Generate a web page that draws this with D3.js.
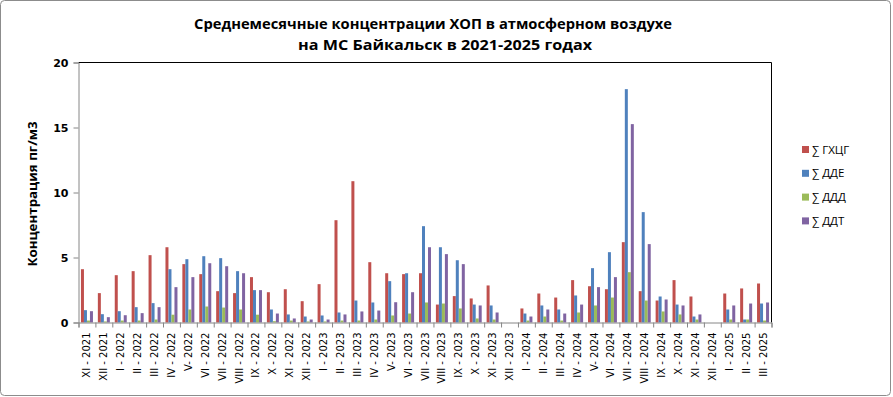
<!DOCTYPE html>
<html><head><meta charset="utf-8">
<script src="https://cdn.jsdelivr.net/npm/d3@7"></script>
<style>
html,body{margin:0;padding:0;background:#fff;}
svg{display:block;}
</style></head>
<body>
<svg id="c" width="893" height="397"></svg>
<script>
const categories = ["XI - 2021","XII - 2021","I - 2022","II - 2022","III - 2022","IV - 2022","V- 2022","VI - 2022","VII - 2022","VIII - 2022","IX - 2022","X - 2022","XI - 2022","XII - 2022","I - 2023","II - 2023","III - 2023","IV - 2023","V- 2023","VI - 2023","VII - 2023","VIII - 2023","IX - 2023","X - 2023","XI - 2023","XII - 2023","I - 2024","II - 2024","III - 2024","IV - 2024","V- 2024","VI - 2024","VII - 2024","VIII - 2024","IX - 2024","X - 2024","XI - 2024","XII - 2024","I - 2025","II - 2025","III - 2025"];
const seriesNames = ["∑ ГХЦГ","∑ ДДЕ","∑ ДДД","∑ ДДТ"];
const ghcg = [4.10,2.26,3.64,3.95,5.18,5.79,4.49,3.72,2.41,2.26,3.49,2.33,2.56,1.64,2.95,7.87,10.87,4.64,3.79,3.72,3.79,1.38,2.03,1.85,2.85,0,1.08,2.23,1.92,3.26,2.79,2.56,6.18,2.41,1.69,3.26,2.0,0,2.23,2.62,3.0];
const dde = [0.95,0.64,0.87,1.18,1.49,4.10,4.87,5.10,4.95,3.95,2.49,1.0,0.62,0.46,0.54,0.77,1.69,1.54,3.18,3.79,7.41,5.79,4.79,1.38,1.31,0,0.69,1.31,1.0,2.08,4.18,5.41,17.95,8.49,2.0,1.38,0.46,0,1.0,0.23,1.46];
const ddd = [0.15,0.08,0.15,0.15,0.23,0.6,1.0,1.23,1.15,1.0,0.6,0.1,0.15,0.08,0.08,0.15,0.15,0.23,0.54,0.69,1.54,1.46,1.08,0.31,0.23,0,0.15,0.46,0.15,0.77,1.31,1.92,3.87,1.69,0.85,0.62,0.23,0,0.23,0.23,0.15];
const ddt = [0.87,0.41,0.56,0.72,1.18,2.72,3.49,4.56,4.33,3.79,2.49,0.69,0.31,0.23,0.23,0.62,0.85,0.92,1.56,2.33,5.79,5.26,4.49,1.31,0.77,0,0.46,1.0,0.69,1.38,2.72,3.49,15.26,6.03,1.77,1.31,0.62,0,1.31,1.46,1.54];
const yTicks = [0,5,10,15,20];
const titleLines = ["Среднемесячные концентрации ХОП в атмосферном воздухе","на  МС Байкальск  в 2021-2025 годах"];
const yTitle = "Концентрация пг/м3";
const colors = ["#C0504D","#4F81BD","#9BBB59","#8064A2"];

const series = [ghcg, dde, ddd, ddt];
const svg = d3.select("#c");

// outer border
svg.append("rect").attr("x",0.5).attr("y",0.5).attr("width",890).attr("height",395)
  .attr("rx",4).attr("fill","#fff").attr("stroke","#8c8c8c").attr("stroke-width",1);

const L = 78.5, R = 771.5, T = 62.5, B = 322.5;

const x = d3.scaleBand().domain(categories).range([L, R]).paddingInner(0.29).paddingOuter(0.145);
const xs = d3.scaleBand().domain(d3.range(series.length)).range([0, x.bandwidth()]);
const xi = d3.scaleLinear().domain([0, categories.length]).range([L, R]);
const y = d3.scaleLinear().domain([0, 20]).range([B, T]);

// plot border top/right
svg.append("line").attr("x1",L).attr("x2",R).attr("y1",T).attr("y2",T).attr("stroke","#000");
svg.append("line").attr("x1",R).attr("x2",R).attr("y1",T).attr("y2",B).attr("stroke","#000");

// bars
series.forEach((vals, si) => {
  svg.append("g").selectAll("rect").data(vals).join("rect")
    .attr("x", (d,i) => x(categories[i]) + xs(si))
    .attr("y", d => y(d))
    .attr("width", xs.bandwidth())
    .attr("height", d => y(0) - y(d))
    .attr("fill", colors[si]);
});

// y axis
const ya = svg.append("g").attr("transform",`translate(${L},0)`)
  .call(d3.axisLeft(y).tickValues(yTicks).tickSize(5).tickPadding(5));
ya.selectAll("path,line").attr("stroke","#868686");
ya.selectAll("text").attr("font-family","DejaVu Sans, Verdana, sans-serif").attr("font-weight","bold")
  .attr("font-size","11px").attr("fill","#000");

// x axis ticks at boundaries
const xa = svg.append("g").attr("transform",`translate(0,${B})`)
  .call(d3.axisBottom(xi).tickValues(d3.range(categories.length+1)).tickSize(5).tickFormat(""));
xa.selectAll("path,line").attr("stroke","#868686");

// x labels
const xl = svg.append("g").attr("transform",`translate(0,${B})`)
  .call(d3.axisBottom(x).tickSize(0).tickPadding(0));
xl.select("path").remove();
xl.selectAll("text")
  .attr("font-family","DejaVu Sans, Verdana, sans-serif").attr("font-size","10px").attr("fill","#000")
  .attr("transform","rotate(-90)").attr("text-anchor","end")
  .attr("x",-10).attr("y",0).attr("dy","0.35em");

// title
const title = svg.append("g").attr("font-family","Open Sans, Noto Sans, sans-serif")
  .attr("font-weight","bold").attr("font-size","15px").attr("fill","#000");
title.append("text").attr("x",433).attr("y",29).attr("text-anchor","middle")
  .attr("textLength",478).attr("lengthAdjust","spacingAndGlyphs").text(titleLines[0]);
title.append("text").attr("x",445).attr("y",50).attr("text-anchor","middle")
  .attr("textLength",294).attr("lengthAdjust","spacingAndGlyphs").text(titleLines[1]);

// y title
svg.append("text").attr("transform","translate(37,194) rotate(-90)").attr("text-anchor","middle")
  .attr("font-family","Open Sans, Noto Sans, sans-serif").attr("font-weight","bold").attr("font-size","13px")
  .attr("textLength",145).attr("lengthAdjust","spacingAndGlyphs").text(yTitle);

// legend
const lg = svg.append("g");
seriesNames.forEach((nm, i) => {
  const yy = 149.5 + i*23.8;
  lg.append("rect").attr("x",802).attr("y",yy-3.5).attr("width",7).attr("height",7).attr("fill",colors[i]);
  lg.append("text").attr("x",812).attr("y",yy).attr("dy","0.35em")
    .attr("font-family","Open Sans, Noto Sans, sans-serif").attr("font-size","11.5px").attr("fill","#000")
    .text(nm);
});
</script>
</body></html>
